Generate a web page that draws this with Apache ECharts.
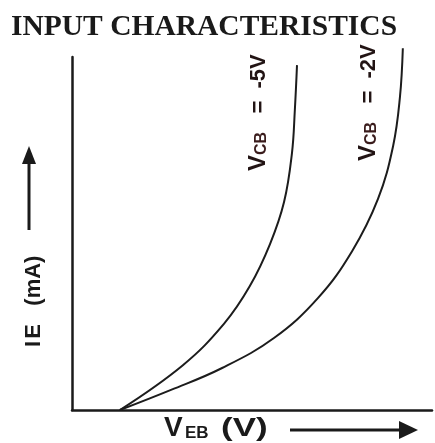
<!DOCTYPE html>
<html>
<head>
<meta charset="utf-8">
<script src="https://cdn.jsdelivr.net/npm/echarts@6/dist/echarts.min.js"></script>
<style>html,body{margin:0;padding:0;background:#fff}#c{width:435px;height:443px}</style>
</head>
<body>
<div id="c"></div>
<script>
// V_EB (arbitrary units) and I_E (arbitrary units)
const vebMinus5 = [1.33, 3.08, 4.22, 4.94, 5.50, 5.89, 6.11, 6.19, 6.25];
const ieMinus5  = [0.00, 1.27, 2.44, 3.51, 4.70, 5.89, 7.28, 8.50, 9.77];
const vebMinus2 = [1.33, 2.75, 4.17, 5.61, 6.83, 7.78, 8.50, 8.92, 9.11, 9.19];
const ieMinus2  = [0.00, 0.57, 1.19, 2.04, 3.17, 4.50, 5.98, 7.48, 8.87, 10.25];
const titleText = 'INPUT CHARACTERISTICS';
const curveLabels = ['-5V', '-2V'];

const chart = echarts.init(document.getElementById('c'));
const pair = (xs, ys) => xs.map((x, i) => [x, ys[i]]);
const lineColor = '#1c1c1c';
const ink = '#1a1a1a';
const sans = 'Liberation Sans';

function tok(size, fill) {
  return { fontSize: size, fontWeight: 'bold', fontFamily: sans, fill: fill || ink, verticalAlign: 'bottom', lineHeight: 26 };
}
function curveLabel(x, y, v) {
  return { type: 'text', x: x, y: y, rotation: Math.PI / 2,
    style: { text: '{v|V}{s|CB}{e|   =  ' + v + '}',
      rich: { v: tok(24, '#221414'), s: tok(16, '#3a1c1c'), e: tok(22, '#221414') } } };
}

chart.setOption({
  animation: false,
  backgroundColor: '#fff',
  title: {
    text: titleText, left: 6, top: 7,
    textStyle: { fontFamily: 'Liberation Serif', fontWeight: 'bold', fontSize: 29.5, color: ink }
  },
  grid: { left: 72, right: 3, top: 57, bottom: 33 },
  xAxis: {
    type: 'value', min: 0, max: 10,
    axisLine: { lineStyle: { color: ink, width: 2.5 } },
    axisTick: { show: false }, axisLabel: { show: false }, splitLine: { show: false }
  },
  yAxis: {
    type: 'value', min: 0, max: 10,
    axisLine: { show: true, lineStyle: { color: ink, width: 2.5 } },
    axisTick: { show: false }, axisLabel: { show: false }, splitLine: { show: false }
  },
  series: [
    { name: 'VCB = ' + curveLabels[0], type: 'line', smooth: 0.4, clip: false, showSymbol: false,
      data: pair(vebMinus5, ieMinus5), lineStyle: { color: lineColor, width: 2 } },
    { name: 'VCB = ' + curveLabels[1], type: 'line', smooth: 0.4, clip: false, showSymbol: false,
      data: pair(vebMinus2, ieMinus2), lineStyle: { color: lineColor, width: 2 } }
  ],
  graphic: [
    curveLabel(244, 171, curveLabels[0]),
    curveLabel(354, 161, curveLabels[1]),
    // y-axis label and arrow
    { type: 'text', x: 19, y: 347, rotation: Math.PI / 2,
      style: { text: '{b|I}{g| }{b|E}{m|   (mA)}',
        rich: { b: tok(22), g: tok(8), m: tok(22) } } },
    { type: 'line', shape: { x1: 29, y1: 230, x2: 29, y2: 160 }, style: { stroke: ink, lineWidth: 3 } },
    { type: 'polygon', shape: { points: [[29, 146], [22, 164], [36, 164]] }, style: { fill: ink } },
    // x-axis label and arrow
    { type: 'text', x: 164, y: 416,
      style: { text: '{v|V}{g| }{s|EB}',
        rich: { v: tok(28), g: tok(8), s: tok(17) } } },
    { type: 'text', x: 221, y: 416, scaleX: 1.4,
      style: { text: '{m|(V)}', rich: { m: tok(25) } } },
    { type: 'line', shape: { x1: 290, y1: 430, x2: 402, y2: 430 }, style: { stroke: ink, lineWidth: 3 } },
    { type: 'polygon', shape: { points: [[418, 430], [399, 421], [399, 439]] }, style: { fill: ink } }
  ]
});
</script>
</body>
</html>
